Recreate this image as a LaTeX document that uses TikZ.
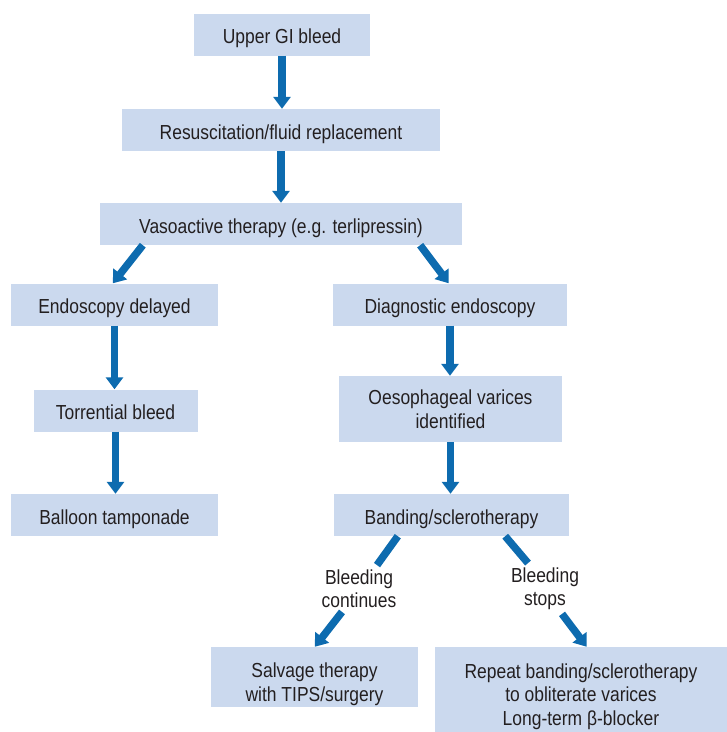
\documentclass[tikz,border=0pt]{standalone}
\usepackage{fontspec}
\setmainfont[FakeStretch=0.86]{Liberation Sans}
\usetikzlibrary{arrows.meta,calc}
\definecolor{boxfill}{HTML}{CBD9EE}
\definecolor{arrowblue}{HTML}{0D6BAF}
\definecolor{txt}{HTML}{231F20}
\begin{document}
\begin{tikzpicture}[x=1pt,y=-1pt,
  box/.style={fill=boxfill,draw=none,inner sep=0pt,align=center,text=txt,
    font=\fontsize{20.3}{23.5}\selectfont},
  sline/.style={text height=20pt,text depth=2pt},
  lbl/.style={inner sep=0pt,align=center,text=txt,font=\fontsize{20.3}{23.5}\selectfont},
  arr/.style={draw=arrowblue,line width=7.5pt,-{Triangle[width=17pt,length=12pt]}}]
\useasboundingbox (0,0) rectangle (727,732);
\node[box,sline,minimum width=176pt,minimum height=42pt] (b1) at (282,34.5) {Upper GI bleed};
\node[box,sline,minimum width=318pt,minimum height=42pt] (b2) at (281,130) {Resuscitation/fluid replacement};
\node[box,sline,minimum width=362pt,minimum height=42pt] (b3) at (281,224) {Vasoactive therapy (e.g. terlipressin)};
\node[box,sline,minimum width=207pt,minimum height=42pt] (b4) at (114.5,304.5) {Endoscopy delayed};
\node[box,sline,minimum width=234pt,minimum height=42pt] (b5) at (450,304.5) {Diagnostic endoscopy};
\node[box,sline,minimum width=164pt,minimum height=42pt] (b6) at (115.5,410.5) {Torrential bleed};
\node[box,text height=40.6pt,text depth=2pt,minimum width=223pt,minimum height=66pt] (b7) at (450.5,409) {Oesophageal varices\\identified};
\node[box,sline,minimum width=207pt,minimum height=42pt] (b8) at (114.5,515) {Balloon tamponade};
\node[box,sline,minimum width=235pt,minimum height=42pt] (b9) at (451.5,515) {Banding/sclerotherapy};
\node[box,text height=50pt,text depth=2pt,minimum width=207pt,minimum height=60pt] (b10) at (314.5,677) {Salvage therapy\\with TIPS/surgery};
\node[box,text height=73pt,text depth=2pt,minimum width=292pt,minimum height=85pt] (b11) at (581,689.5) {Repeat banding/sclerotherapy\\to obliterate varices\\Long-term β-blocker};
\node[lbl] (l1) at (359,588.5) {Bleeding\\continues};
\node[lbl] (l2) at (545,588.5) {Bleeding\\stops};
% arrows
\draw[arr] (b1.south) -- (b1.south |- b2.north);
\draw[arr] (b2.south) -- (b2.south |- b3.north);
\draw[arr] ($(b3.south west)+(43,0)$) -- ($(b4.north west)+(102,0)$);
\draw[arr] ($(b3.south east)+(-42,0)$) -- ($(b5.north west)+(116,0)$);
\draw[arr] (b4.south) -- (b4.south |- b6.north);
\draw[arr] (b6.south) -- (b6.south |- b8.north);
\draw[arr] (b5.south) -- (b5.south |- b7.north);
\draw[arr] (b7.south) -- (b7.south |- b9.north);
\draw[arr,-] ($(b9.south west)+(64,0)$) -- ($(l1.north)+(18,-4)$);
\draw[arr] ($(l1.south)+(-17,4)$) -- ($(b10.north west)+(104,0)$);
\draw[arr,-] ($(b9.south east)+(-64,0)$) -- ($(l2.north)+(-17,-4)$);
\draw[arr] ($(l2.south)+(17,4)$) -- ($(b11.north west)+(152,0)$);
\end{tikzpicture}
\end{document}
